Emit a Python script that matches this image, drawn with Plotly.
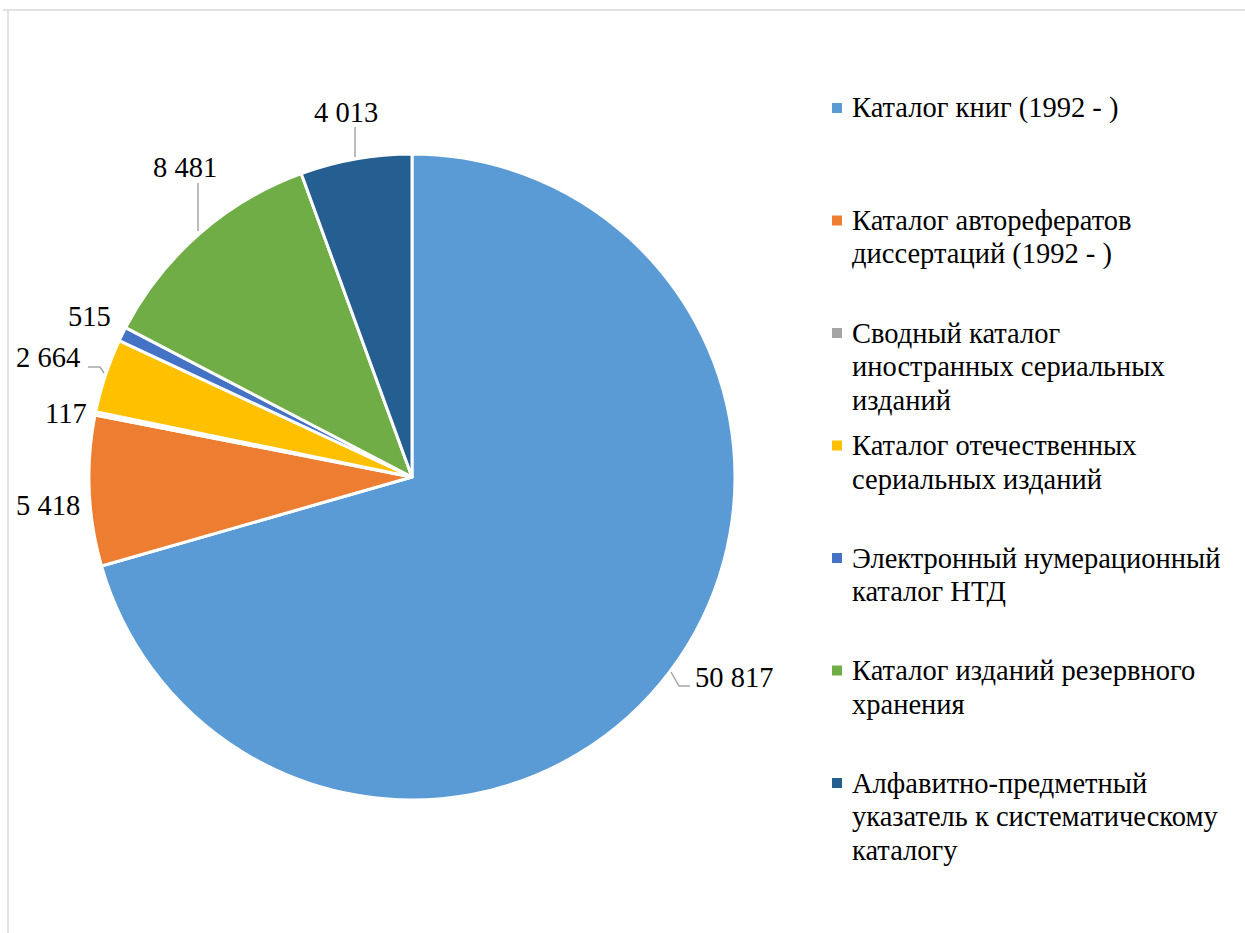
import plotly.graph_objects as go

categories = [
    "Каталог книг (1992 - )",
    "Каталог авторефератов диссертаций (1992 - )",
    "Сводный каталог иностранных сериальных изданий",
    "Каталог отечественных сериальных изданий",
    "Электронный нумерационный каталог НТД",
    "Каталог изданий резервного хранения",
    "Алфавитно-предметный указатель к систематическому каталогу",
]
legend_lines = [
    ["Каталог книг (1992 - )"],
    ["Каталог авторефератов", "диссертаций (1992 - )"],
    ["Сводный каталог", "иностранных сериальных", "изданий"],
    ["Каталог отечественных", "сериальных изданий"],
    ["Электронный нумерационный", "каталог НТД"],
    ["Каталог изданий резервного", "хранения"],
    ["Алфавитно-предметный", "указатель к систематическому", "каталогу"],
]
values = [50817, 5418, 117, 2664, 515, 8481, 4013]
value_labels = ["50 817", "5 418", "117", "2 664", "515", "8 481", "4 013"]
colors = ["#5B9BD5", "#ED7D31", "#A5A5A5", "#FFC000", "#4472C4", "#70AD47", "#255E91"]

W, H = 1245, 933
FONT = "Liberation Serif"

# pie geometry (pixels)
cx, cy, R = 412, 477, 323

fig = go.Figure()
fig.add_trace(go.Pie(
    labels=categories, values=values, sort=False, direction="clockwise", rotation=0,
    marker=dict(colors=colors, line=dict(color="white", width=3)),
    textinfo="none", hoverinfo="label+value", showlegend=False,
    domain=dict(x=[(cx - R) / W, (cx + R) / W], y=[(H - cy - R) / H, (H - cy + R) / H]),
))

# data labels positions (pixels, centre of text)
label_pos = [(734, 677), (48, 505), (66, 413), (48, 357), (89, 316), (185, 167), (346, 112)]
annotations = []
for txt, (x, y) in zip(value_labels, label_pos):
    annotations.append(dict(x=x, y=y, xref="x", yref="y", text=txt, showarrow=False,
                            xanchor="center", yanchor="middle",
                            font=dict(family=FONT, size=28.5, color="black")))

shapes = []
# leader lines
leaders = [
    [(671, 672), (679, 686), (690, 686)],
    [(88, 367), (100, 367), (104, 373)],
    [(198, 183), (198, 231)],
    [(355, 127), (355, 157)],
]
for pts in leaders:
    path = "M " + " L ".join(f"{x},{y}" for x, y in pts)
    shapes.append(dict(type="path", xref="x", yref="y", path=path,
                       line=dict(color="#A6A6A6", width=1.5)))

# manual legend
leg_y0, leg_step, line_h = 108, 112.5, 33.5
for i, (lines, col) in enumerate(zip(legend_lines, colors)):
    yc = leg_y0 + i * leg_step
    shapes.append(dict(type="rect", xref="x", yref="y", x0=832, x1=842, y0=yc - 5, y1=yc + 5,
                       fillcolor=col, line=dict(width=0)))
    for j, ln in enumerate(lines):
        annotations.append(dict(x=850, y=yc + j * line_h, xref="x", yref="y", text=ln,
                                showarrow=False, xanchor="left", yanchor="middle", align="left",
                                font=dict(family=FONT, size=28.5, color="black")))

# chart-area border (partially visible)
shapes.append(dict(type="line", xref="x", yref="y", x0=3, x1=W + 5, y0=10, y1=10,
                   line=dict(color="#D9D9D9", width=1.5)))
shapes.append(dict(type="line", xref="x", yref="y", x0=8, x1=8, y0=10, y1=H + 5,
                   line=dict(color="#D9D9D9", width=1.5)))

fig.update_layout(
    width=W, height=H,
    margin=dict(l=0, r=0, t=0, b=0),
    paper_bgcolor="white", plot_bgcolor="rgba(0,0,0,0)",
    xaxis=dict(range=[0, W], visible=False, fixedrange=True),
    yaxis=dict(range=[H, 0], visible=False, fixedrange=True),
    shapes=shapes, annotations=annotations, showlegend=False,
)
fig.write_html("out.html", config={"displayModeBar": False},
               post_script="document.body.style.margin='0';")
